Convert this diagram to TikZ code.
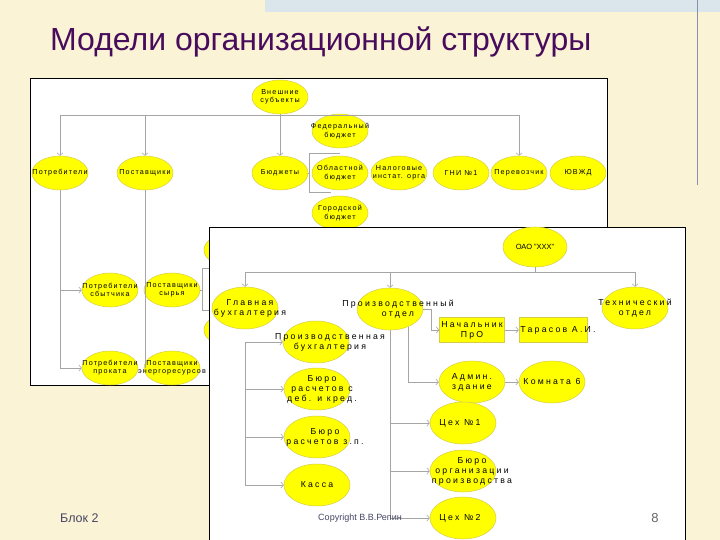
\documentclass[tikz,border=0pt]{standalone}
\usepackage{fontspec}
\setmainfont{Liberation Sans}
\newfontfamily\chartfont[LetterSpace=26]{Liberation Sans}
\newfontfamily\minifont[LetterSpace=16]{Liberation Sans}
\usetikzlibrary{shapes.geometric,arrows.meta}
\definecolor{slidebg}{RGB}{251,243,214}
\definecolor{bandblue}{RGB}{218,229,236}
\definecolor{ruleblue}{RGB}{130,145,175}
\definecolor{titlepurple}{RGB}{72,12,92}
\definecolor{ovalfill}{RGB}{255,255,0}
\definecolor{ovalrim}{RGB}{214,204,70}
\definecolor{linkgrey}{RGB}{165,165,165}
\definecolor{footgrey}{RGB}{70,70,100}
\tikzset{
  oval/.style={ellipse,fill=ovalfill,draw=ovalrim,line width=0.5pt,inner sep=0pt},
  ovalA/.style={oval,minimum width=56pt,minimum height=34pt},
  ovalB/.style={oval,minimum width=66pt,minimum height=42pt},
  tag/.style={rectangle,fill=ovalfill,draw=ovalrim,line width=0.5pt,inner sep=0pt,minimum height=25pt},
  small/.style={font=\minifont\fontsize{7.2}{8.2}\selectfont,align=center,inner sep=0pt},
  big/.style={font=\chartfont\fontsize{8.7}{10}\selectfont,align=center,inner sep=0pt},
  link/.style={draw=linkgrey,line width=0.6pt},
  arr/.style={link,-{Straight Barb[length=2.5pt,width=6pt]}},
  panel/.style={fill=white,draw=black,line width=0.8pt}
}
\begin{document}
\begin{tikzpicture}[x=1pt,y=-1pt]
\fill[slidebg] (0,0) rectangle (720,540);
\useasboundingbox (0,0) rectangle (720,540);
\fill[bandblue] (265,0) rectangle (720,12);
\draw[ruleblue,line width=1pt] (697,0) -- (697,185);
\node[anchor=base west,inner sep=0pt,text=titlepurple,font=\fontsize{32}{38}\selectfont] (title) at (50,51) {Модели организационной структуры};

\draw[panel] (30,78) rectangle (607,385);
\node[ovalA] (h1) at (232,250) {};
\node[ovalA] (h2) at (232,330) {};
\foreach \nm/\x/\y/\txt in {vnesh/280/97/{Внешние\\субъекты},
  potreb/60/173/Потребители, postav/145/173/Поставщики, budg/280/173/Бюджеты,
  fed/340/131/{Федеральный\\бюджет}, obl/340/173/{Областной\\бюджет},
  nalog/399/173/{Налоговые\\инстат. орга}, gni/461/173/{ГНИ №1},
  perev/519/173/Перевозчик, yuvzhd/578/173/ЮВЖД, gor/340/213/{Городской\\бюджет},
  potrsb/110/290/{Потребители\\сбытчика}, postsyr/172/290/{Поставщики\\сырья},
  potrpr/110/368/{Потребители\\проката}, posten/172/368/{Поставщики\\энергоресурсов}}
  \node[ovalA,label={[small]center:\txt}] (\nm) at (\x,\y) {};
\coordinate (bus1l) at (60,115);
\coordinate (bus1r) at (519,115);
\draw[link] (vnesh.south) -- (vnesh.south |- bus1l);
\draw[link] (bus1l) -- (bus1r);
\draw[arr] (bus1l) -- (potreb.north);
\draw[arr] (bus1l -| postav.north) -- (postav.north);
\draw[arr] (bus1l -| budg.north) -- (budg.north);
\draw[arr] (bus1r) -- (perev.north);
\coordinate (brt) at (309,153);
\coordinate (brb) at (309,192);
\draw[link] (budg.east) -- (budg.east -| brt);
\draw[link] (brt -| obl.north) -- (brt) -- (brb) -- (brb -| obl.-120);
\draw[link] (potreb.south) -- (potreb.south |- potrpr.west);
\draw[arr] (potreb.south |- potrsb.west) -- (potrsb.west);
\draw[arr] (potreb.south |- potrpr.west) -- (potrpr.west);
\draw[link] (postav.south) -- (postav.south |- potrpr.east);
\coordinate (br2t) at (202,268);
\coordinate (br2b) at (202,310);
\draw[link] (postsyr.east) -- (postsyr.east -| br2t);
\draw[link] (br2t -| h1.center) -- (br2t) -- (br2b) -- (br2b -| h2.center);

\draw[panel] (209,227) rectangle (685,560);
\node[ovalB,minimum width=64pt,minimum height=40pt,label={[small,font=\fontsize{7.5}{9}\selectfont]center:ОАО "XXX"}] (oao) at (535,247) {};
\foreach \nm/\x/\y/\dx/\txt in {glav/245/308/5/{Главная\\бухгалтерия},
  proizv/390/309/8/{Производственный\\отдел}, tech/635/308/0/{Технический\\отдел},
  pbuh/316/342/14/{Производственная\\бухгалтерия}, bdeb/317/389/5/{Бюро\\расчетов с\\деб. и кред.},
  bzp/317/437/8/{Бюро\\расчетов з.п.}, kassa/317/485/0/Касса,
  admin/472/382/0/{Админ.\\здание}, komn/552/382/0/{Комната 6},
  ceh1/463/423/-3/{Цех №1}, borg/463/471/9/{Бюро\\организации\\производства},
  ceh2/463/518/-3/{Цех №2}}
  \node[ovalB,label={[big,xshift=\dx pt]center:\txt}] (\nm) at (\x,\y) {};
\node[tag,minimum width=65pt,label={[big]center:Начальник\\ПрО}] (nach) at (472,330) {};
\node[tag,minimum width=68pt,label={[big,xshift=5pt]center:Тарасов А.И.}] (taras) at (553,330) {};
\coordinate (bus2l) at (245,272);
\coordinate (bus2r) at (635,272);
\draw[link] (oao.south) -- (oao.south |- bus2l);
\draw[link] (bus2l) -- (bus2r);
\draw[arr] (bus2l) -- (glav.north);
\draw[arr] (bus2l -| proizv.north) -- (proizv.north);
\draw[arr] (bus2r) -- (tech.north);
\coordinate (gb) at (245,342);
\draw[arr] (gb) -- (pbuh.west);
\draw[link] (gb) -- (gb |- kassa.west);
\draw[arr] (gb |- bdeb.west) -- (bdeb.west);
\draw[arr] (gb |- bzp.west) -- (bzp.west);
\draw[arr] (gb |- kassa.west) -- (kassa.west);
\draw[link] (proizv.south) -- (proizv.south |- ceh2.west);
\draw[arr] (proizv.south |- ceh1.west) -- (ceh1.west);
\draw[arr] (proizv.south |- borg.west) -- (borg.west);
\draw[arr] (proizv.south |- ceh2.west) -- (ceh2.west);
\coordinate (pr2) at (408,327);
\draw[arr] (pr2) |- (admin.west);
\draw[arr] (proizv.east) -- ++(8,0) |- (nach.west);
\draw[arr] (nach) -- (taras);
\draw[arr] (admin) -- (komn);

\node[anchor=base,inner sep=0pt,text=footgrey,font=\fontsize{9}{11}\selectfont] (copy) at (360,520) {Copyright В.В.Репин};
\node[anchor=base west,inner sep=0pt,text=footgrey,font=\fontsize{12.5}{15}\selectfont] (blok) at (60,522) {Блок 2};
\node[anchor=base,inner sep=0pt,text=black!60,font=\fontsize{13}{15}\selectfont] (page) at (655,522) {8};
\end{tikzpicture}
\end{document}
